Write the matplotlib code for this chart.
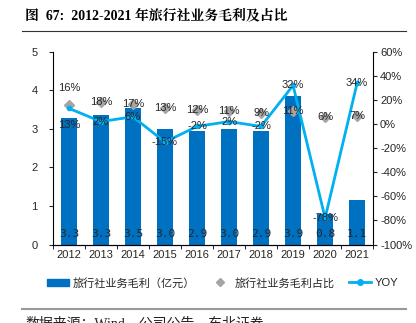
import numpy as np
import matplotlib
matplotlib.use('Agg')
import matplotlib.pyplot as plt
from matplotlib.lines import Line2D
from matplotlib.patches import Patch

plt.rcParams['font.family'] = ['Liberation Sans', 'Noto Sans CJK SC']

years = ['2012', '2013', '2014', '2015', '2016', '2017', '2018', '2019', '2020', '2021']
profit = [3.27, 3.35, 3.55, 3.0, 2.95, 3.0, 2.95, 3.85, 0.8, 1.15]     # 亿元
profit_lbl = ['3.3', '3.3', '3.5', '3.0', '2.9', '3.0', '2.9', '3.9', '0.8', '1.1']
share = [16, 18, 17, 13, 12, 11, 9, 11, 6, 7]                         # %
yoy = [13, 2, 6, -15, -2, 2, -2, 32, -78, 34]                          # %

BAR = '#0070C0'
LINE = '#00B0F0'
GREY = '#A5A5A5'
TXT = '#262626'

fig = plt.figure(figsize=(4.16, 3.23), dpi=100)
ax = fig.add_axes([0.127, 0.243, 0.77, 0.597])
ax2 = ax.twinx()

x = np.arange(len(years))
ax.bar(x, profit, width=0.5, color=BAR, zorder=2)
ax.set_xlim(-0.5, len(years) - 0.5)
ax.set_ylim(0, 5)
ax.set_yticks(range(6))
ax.set_xticks(x)
ax.set_xticklabels(years)
ax.set_xticks(np.arange(-0.5, len(years)), minor=True)
ax.tick_params(axis='x', which='major', length=0, labelsize=8, pad=4, colors=TXT)
ax.tick_params(axis='x', which='minor', length=3, direction='out')
ax.tick_params(axis='y', length=3, labelsize=8, pad=8, colors=TXT)
for i, s in enumerate(profit_lbl):
    ax.text(i, 0.28, s, ha='center', va='center', fontsize=8,
            family='DejaVu Sans Mono', color=TXT)

ax2.set_ylim(-100, 60)
ax2.set_yticks(range(-100, 61, 20))
ax2.set_yticklabels([f'{v}%' for v in range(-100, 61, 20)])
ax2.tick_params(axis='y', length=3, labelsize=8, pad=2, colors=TXT)
ax2.plot(x, share, ls='none', marker='D', ms=5, color=GREY, zorder=3)
ax2.plot(x, yoy, color=LINE, lw=2, marker='o', ms=3, zorder=4)

# label offsets (points) where labels would collide
share_off = {0: 12}
yoy_off = {0: -12}
for i in range(len(years)):
    ax2.annotate(f'{share[i]}%', (i, share[i]), xytext=(0, share_off.get(i, 0)),
                 textcoords='offset points', ha='center', va='center',
                 fontsize=8, color=TXT, zorder=5)
    ax2.annotate(f'{yoy[i]}%', (i, yoy[i]), xytext=(0, yoy_off.get(i, 0)),
                 textcoords='offset points', ha='center', va='center',
                 fontsize=8, color=TXT, zorder=5)

for a in (ax, ax2):
    a.spines['top'].set_visible(False)
ax.spines['right'].set_visible(False)
ax2.spines['left'].set_visible(False)

handles = [Patch(color=BAR),
           Line2D([], [], ls='none', marker='D', ms=4, color=GREY),
           Line2D([], [], color=LINE, lw=2, marker='o', ms=4)]
labels = ['旅行社业务毛利（亿元）', '旅行社业务毛利占比', 'YOY']
fig.legend(handles, labels, loc='center', bbox_to_anchor=(0.535, 0.124), ncol=3,
           frameon=False, fontsize=8, handlelength=2.0, handletextpad=0.3,
           columnspacing=1.3, labelcolor=TXT)

fig.text(0.06, 0.953, '图  67:  2012-2021 年旅行社业务毛利及占比', fontsize=10,
         fontweight='bold', va='center', family=['Liberation Serif', 'Noto Serif CJK SC', 'Noto Sans CJK SC'])
fig.add_artist(Line2D([0.053, 0.976], [0.904, 0.904], color='#333333', lw=0.8))
fig.add_artist(Line2D([0.053, 0.976], [0.043, 0.043], color='#999999', lw=1.5))
fig.text(0.06, 0.0, '数据来源：Wind，公司公告，东北证券', fontsize=10, va='center', color='#222222',
         family=['Liberation Serif', 'Noto Sans CJK SC'])

fig.savefig('out.png', dpi=100)
